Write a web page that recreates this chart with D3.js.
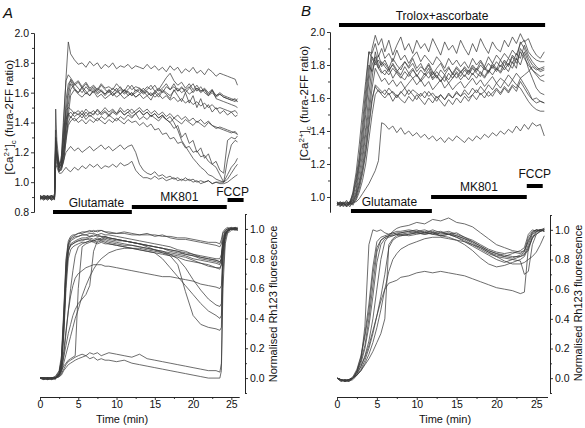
<!DOCTYPE html>
<html><head><meta charset="utf-8">
<script src="https://cdn.jsdelivr.net/npm/d3@7"></script>
<style>
body{margin:0;background:#fff}
text{font-family:"Liberation Sans",Arial,sans-serif;fill:#111}
</style>
</head><body>
<svg id="c" width="585" height="428"></svg>
<script>
// ---------- DATA ----------
// Panel A, [Ca2+]c time points (min)
const tCaA = [0,0.5,1,1.5,1.9,2.05,2.2,2.5,2.8,3.1,3.4,3.7,
  4,4.5,5,5.5,6,6.5,7,7.5,8,8.5,
  9,9.5,10,10.5,11,11.5,12,12.5,13,13.5,
  14,14.5,15,15.5,16,16.5,17,17.5,18,18.5,
  19,19.5,20,20.5,21,21.5,22,22.5,23,23.5,
  24,24.5,25,25.5,25.8];
const caA1 = [0.90,0.89,0.91,0.88,0.90,1.30,1.20,1.12,1.15,1.40,1.70,1.94, 1.86,1.82,1.79,1.80,1.77,1.81,1.78,1.80,1.76,1.79, 1.77,1.80,1.76,1.78,1.77,1.79,1.76,1.78,1.77,1.76, 1.79,1.76,1.78,1.75,1.77,1.74,1.78,1.75,1.77,1.73, 1.76,1.74,1.77,1.73,1.75,1.72,1.76,1.74,1.71,1.73, 1.72,1.71,1.70,1.69,1.65];
const caA2 = [0.91,0.90,0.88,0.90,0.89,1.25,1.18,1.10,1.18,1.45,1.68,1.72, 1.70,1.66,1.68,1.64,1.67,1.63,1.65,1.62,1.66,1.63, 1.64,1.62,1.66,1.63,1.61,1.65,1.62,1.64,1.63,1.61, 1.64,1.62,1.65,1.61,1.63,1.66,1.62,1.64,1.61,1.63, 1.62,1.64,1.60,1.63,1.61,1.62,1.59,1.61,1.58,1.60, 1.58,1.57,1.56,1.55,1.54];
const caA3 = [0.89,0.91,0.90,0.89,0.91,1.35,1.22,1.12,1.14,1.30,1.55,1.66, 1.68,1.63,1.60,1.63,1.59,1.62,1.60,1.63,1.61,1.59, 1.62,1.60,1.63,1.59,1.62,1.60,1.58,1.62,1.60,1.63, 1.60,1.58,1.61,1.59,1.62,1.60,1.58,1.61,1.63,1.60, 1.62,1.59,1.61,1.63,1.60,1.62,1.58,1.60,1.57,1.59, 1.57,1.56,1.55,1.56,1.54];
const caA4 = [0.90,0.88,0.90,0.91,0.88,1.28,1.20,1.09,1.12,1.25,1.48,1.62, 1.69,1.65,1.67,1.63,1.66,1.62,1.64,1.61,1.65,1.62, 1.60,1.63,1.61,1.64,1.60,1.62,1.65,1.61,1.63,1.60, 1.62,1.65,1.61,1.63,1.60,1.64,1.62,1.66,1.61,1.64, 1.60,1.63,1.66,1.61,1.64,1.60,1.58,1.62,1.56,1.55, 1.54,1.53,1.52,1.51,1.50];
const caA5 = [0.91,0.89,0.89,0.90,0.90,1.22,1.16,1.10,1.10,1.20,1.40,1.58, 1.66,1.62,1.60,1.64,1.61,1.58,1.62,1.59,1.61,1.58, 1.61,1.58,1.60,1.62,1.59,1.61,1.58,1.60,1.62,1.59, 1.61,1.58,1.60,1.57,1.61,1.59,1.56,1.62,1.58,1.54, 1.60,1.53,1.58,1.50,1.56,1.49,1.52,1.47,1.50,1.46, 1.48,1.45,1.47,1.44,1.45];
const caA6 = [0.89,0.90,0.91,0.88,0.89,1.18,1.14,1.08,1.10,1.18,1.35,1.52, 1.62,1.66,1.63,1.60,1.64,1.61,1.63,1.60,1.62,1.59, 1.62,1.58,1.61,1.59,1.62,1.58,1.60,1.57,1.59,1.56, 1.58,1.55,1.60,1.62,1.66,1.70,1.73,1.68,1.65,1.67, 1.63,1.66,1.62,1.65,1.61,1.63,1.60,1.62,1.58,1.59, 1.57,1.56,1.55,1.54,1.56];
const caA7 = [0.90,0.91,0.89,0.90,0.92,1.20,1.15,1.07,1.09,1.14,1.28,1.45, 1.58,1.62,1.59,1.57,1.60,1.58,1.61,1.57,1.59,1.56, 1.58,1.60,1.57,1.59,1.56,1.58,1.60,1.57,1.59,1.61, 1.58,1.60,1.57,1.59,1.56,1.58,1.55,1.57,1.54,1.56, 1.53,1.55,1.52,1.54,1.51,1.53,1.50,1.52,1.49,1.50, 1.49,1.48,1.47,1.48,1.46];
const caA8 = [0.88,0.90,0.90,0.89,0.90,1.25,1.18,1.10,1.13,1.30,1.42,1.46, 1.43,1.47,1.45,1.48,1.44,1.47,1.45,1.49,1.46,1.48, 1.45,1.48,1.46,1.50,1.47,1.49,1.46,1.48,1.50,1.47, 1.49,1.46,1.48,1.45,1.47,1.44,1.46,1.43,1.45,1.42, 1.44,1.41,1.43,1.40,1.42,1.39,1.41,1.38,1.37,1.36, 1.35,1.34,1.33,1.34,1.32];
const caA9 = [0.91,0.89,0.90,0.91,0.89,1.49,1.28,1.12,1.11,1.22,1.38,1.45, 1.47,1.44,1.46,1.43,1.47,1.44,1.46,1.48,1.45,1.47, 1.44,1.47,1.45,1.48,1.45,1.47,1.44,1.46,1.48,1.45, 1.47,1.44,1.46,1.43,1.45,1.42,1.40,1.36,1.38,1.30, 1.33,1.26,1.28,1.20,1.23,1.16,1.19,1.12,1.14,1.08, 1.06,1.28,1.30,1.29,1.31];
const caA10 = [0.90,0.90,0.88,0.91,0.90,1.30,1.20,1.08,1.08,1.15,1.28,1.38, 1.41,1.43,1.40,1.42,1.39,1.42,1.40,1.43,1.41,1.39, 1.42,1.40,1.43,1.41,1.39,1.42,1.40,1.41,1.38,1.40, 1.37,1.39,1.35,1.36,1.32,1.33,1.29,1.30,1.26,1.27, 1.23,1.24,1.20,1.21,1.17,1.18,1.14,1.12,1.10,1.05, 1.00,1.05,1.10,1.13,1.16];
const caA11 = [0.89,0.91,0.90,0.88,0.90,1.22,1.17,1.10,1.12,1.20,1.32,1.40, 1.44,1.41,1.43,1.46,1.42,1.45,1.43,1.41,1.44,1.42, 1.45,1.43,1.41,1.44,1.42,1.45,1.43,1.46,1.42,1.44, 1.42,1.45,1.43,1.41,1.44,1.42,1.40,1.43,1.41,1.39, 1.42,1.40,1.38,1.41,1.39,1.37,1.40,1.38,1.36,1.37, 1.36,1.35,1.34,1.33,1.32];
const caA12 = [0.90,0.89,0.91,0.90,0.91,1.27,1.19,1.11,1.14,1.35,1.48,1.50, 1.49,1.46,1.48,1.45,1.49,1.46,1.48,1.45,1.47,1.50, 1.47,1.49,1.46,1.48,1.45,1.47,1.49,1.46,1.48,1.45, 1.47,1.44,1.46,1.43,1.45,1.42,1.44,1.40,1.35,1.28, 1.24,1.20,1.16,1.13,1.10,1.08,1.05,1.04,1.02,1.01, 1.00,1.15,1.25,1.28,1.27];
const caA13 = [0.89,0.90,0.89,0.91,0.90,1.15,1.12,1.07,1.10,1.15,1.20,1.22, 1.24,1.21,1.23,1.20,1.22,1.24,1.21,1.23,1.25,1.22, 1.24,1.21,1.23,1.25,1.22,1.24,1.25,1.20,1.12,1.08, 1.06,1.05,1.07,1.04,1.05,1.03,1.04,1.02,1.03,1.01, 1.03,1.01,1.02,1.00,1.01,1.00,1.01,0.99,1.00,1.00, 1.00,1.02,1.06,1.10,1.12];
const caA14 = [0.90,0.88,0.90,0.89,0.91,1.12,1.10,1.06,1.06,1.08,1.10,1.08, 1.07,1.10,1.08,1.11,1.09,1.12,1.10,1.12,1.09,1.11, 1.10,1.12,1.10,1.13,1.11,1.12,1.14,1.08,1.05,1.03, 1.03,1.02,1.04,1.02,1.03,1.01,1.02,1.03,1.01,1.02, 1.01,1.02,1.00,1.01,0.99,1.00,1.01,0.99,1.00,0.99, 0.99,1.00,1.02,1.04,1.05];

// Panel A, Rh123 time points (min)
const tRhA = [0,0.5,1,1.5,2,2.5, 2.8,3.1,3.4,3.7,4,4.3,4.6, 5,5.5,6,6.5,7,7.5,8,8.5,9,
  10,11,12,13,14,15,16,17,18,19,20,21,22,23, 23.5,23.7,23.9,24.2,24.5,25,25.5,25.8];
const rhA1 = [0.00,-0.01,0.00,0.00,0.01,0.05, 0.15,0.45,0.80,0.92,0.95,0.96,0.96, 0.97,0.97,0.98,0.98,0.99,0.98,0.99,0.98,0.98, 0.97,0.97,0.96,0.96,0.97,0.95,0.96,0.94,0.93,0.93,0.92,0.91,0.90,0.89, 0.88,0.90,0.97,0.99,1.00,1.01,1.00,1.00];
const rhA2 = [0.00,0.00,-0.01,0.00,0.00,0.04, 0.12,0.40,0.75,0.90,0.94,0.95,0.96, 0.97,0.98,0.98,0.99,0.98,0.99,0.99,0.98,0.97, 0.97,0.98,0.97,0.96,0.96,0.96,0.95,0.95,0.94,0.94,0.93,0.92,0.91,0.91, 0.90,0.93,0.98,1.00,1.01,1.00,1.01,1.00];
const rhA3 = [0.00,0.00,0.00,-0.01,0.00,0.03, 0.10,0.35,0.70,0.88,0.92,0.93,0.94, 0.95,0.96,0.96,0.97,0.97,0.96,0.97,0.96,0.96, 0.95,0.94,0.93,0.92,0.91,0.90,0.89,0.88,0.86,0.85,0.83,0.81,0.80,0.79, 0.78,0.80,0.92,0.98,1.00,1.01,1.00,0.99];
const rhA4 = [0.00,-0.01,0.00,0.00,0.00,0.02, 0.08,0.30,0.65,0.85,0.90,0.91,0.92, 0.93,0.94,0.94,0.95,0.95,0.96,0.95,0.95,0.94, 0.93,0.92,0.91,0.90,0.89,0.88,0.87,0.86,0.85,0.84,0.83,0.82,0.81,0.80, 0.80,0.83,0.94,0.99,1.00,1.00,1.01,1.00];
const rhA5 = [0.00,0.00,0.00,0.00,-0.01,0.03, 0.10,0.38,0.72,0.86,0.89,0.90,0.91, 0.92,0.92,0.93,0.93,0.92,0.93,0.92,0.92,0.91, 0.90,0.89,0.89,0.88,0.87,0.86,0.85,0.84,0.83,0.82,0.80,0.79,0.78,0.77, 0.76,0.79,0.90,0.97,0.99,1.00,1.00,1.01];
const rhA6 = [0.00,0.00,-0.01,0.00,0.00,0.02, 0.07,0.28,0.60,0.80,0.86,0.88,0.89, 0.90,0.91,0.91,0.92,0.91,0.90,0.91,0.90,0.90, 0.89,0.88,0.87,0.86,0.85,0.84,0.83,0.82,0.81,0.79,0.78,0.77,0.75,0.74, 0.73,0.76,0.88,0.96,0.99,1.00,0.99,1.00];
const rhA7 = [0.00,0.00,0.00,0.00,0.01,0.04, 0.12,0.42,0.78,0.90,0.93,0.94,0.95, 0.95,0.96,0.96,0.95,0.96,0.95,0.95,0.94,0.94, 0.93,0.92,0.91,0.90,0.88,0.86,0.84,0.82,0.76,0.58,0.42,0.36,0.34,0.33, 0.32,0.34,0.85,0.97,0.99,1.00,1.00,1.00];
const rhA8 = [0.00,0.00,0.00,-0.01,0.00,0.02, 0.05,0.15,0.30,0.45,0.60,0.72,0.82, 0.88,0.90,0.91,0.92,0.92,0.91,0.92,0.91,0.90, 0.89,0.88,0.87,0.86,0.85,0.84,0.80,0.74,0.68,0.62,0.56,0.50,0.45,0.42, 0.40,0.42,0.80,0.96,0.99,1.00,1.00,1.01];
const rhA9 = [0.00,-0.01,0.00,0.00,0.00,0.03, 0.09,0.33,0.68,0.85,0.89,0.90,0.91, 0.92,0.93,0.93,0.94,0.93,0.94,0.93,0.93,0.92, 0.91,0.90,0.89,0.88,0.87,0.86,0.85,0.83,0.80,0.74,0.66,0.59,0.53,0.49, 0.48,0.50,0.82,0.96,0.99,1.00,1.00,1.00];
const rhA10 = [0.00,0.00,0.00,0.00,0.00,0.02, 0.05,0.08,0.10,0.12,0.13,0.14,0.15, 0.60,0.88,0.90,0.91,0.92,0.93,0.93,0.94,0.93, 0.92,0.92,0.91,0.90,0.89,0.88,0.87,0.86,0.85,0.83,0.82,0.81,0.80,0.79, 0.78,0.80,0.90,0.97,0.99,1.00,1.00,1.00];
const rhA11 = [0.00,0.00,-0.01,0.00,0.00,0.02, 0.06,0.14,0.22,0.30,0.36,0.42,0.46, 0.50,0.53,0.56,0.62,0.85,0.92,0.94,0.95,0.94, 0.93,0.92,0.91,0.90,0.89,0.88,0.87,0.85,0.84,0.83,0.82,0.80,0.79,0.78, 0.77,0.79,0.91,0.97,0.99,1.00,1.00,0.99];
const rhA12 = [0.00,0.00,0.00,0.00,0.00,0.01, 0.04,0.10,0.16,0.22,0.28,0.34,0.40, 0.46,0.55,0.62,0.68,0.73,0.77,0.80,0.82,0.84, 0.86,0.87,0.87,0.87,0.86,0.85,0.84,0.83,0.82,0.81,0.79,0.77,0.76,0.74, 0.74,0.76,0.89,0.96,0.99,1.00,1.01,1.00];
const rhA13 = [0.00,0.00,0.00,-0.01,0.00,0.02, 0.06,0.18,0.32,0.45,0.55,0.62,0.67, 0.70,0.72,0.74,0.75,0.76,0.76,0.76,0.75,0.75, 0.74,0.73,0.72,0.71,0.70,0.69,0.68,0.68,0.67,0.66,0.65,0.63,0.62,0.61, 0.60,0.62,0.85,0.95,0.98,1.00,1.00,1.00];
const rhA14 = [0.00,0.00,0.00,0.00,0.00,0.01, 0.03,0.06,0.09,0.11,0.12,0.13,0.14, 0.15,0.16,0.15,0.17,0.16,0.17,0.15,0.16,0.17, 0.16,0.15,0.14,0.16,0.13,0.12,0.11,0.10,0.09,0.08,0.07,0.06,0.05,0.05, 0.04,0.10,0.70,0.93,0.98,1.00,1.00,0.99];
const rhA15 = [0.00,0.00,-0.01,0.00,0.00,0.01, 0.02,0.05,0.07,0.09,0.10,0.11,0.12, 0.13,0.14,0.15,0.13,0.14,0.12,0.13,0.12,0.12, 0.11,0.12,0.10,0.09,0.08,0.07,0.06,0.05,0.04,0.03,0.02,0.01,0.00,0.00, 0.00,0.05,0.60,0.90,0.97,0.99,1.00,1.00];

// Panel B, [Ca2+]c time points (min)
const tCaB = [0,0.4,0.8,1.2,1.6,2.0,2.4,2.8,3.2,3.6,4.0,4.4,4.8,5.2,5.6,
  6,6.5,7,7.5,8,8.5,9,9.5,10,10.5,
  11,11.5,12,12.5,13,13.5,14,14.5,15,15.5,
  16,16.5,17,17.5,18,18.5,19,19.5,20,20.5,
  21,21.5,22,22.5,23,23.5,24,24.5,25,25.5, 26];
const caB1 = [0.96,0.95,0.97,0.94,0.96,1.00,1.08,1.20,1.35,1.55,1.75,1.90,1.98,1.92,1.96, 1.88,1.95,1.86,1.92,1.97,1.89,1.93,1.87,1.95,1.90, 1.93,1.88,1.96,1.91,1.86,1.94,1.89,1.92,1.87,1.95, 1.90,1.86,1.93,1.88,1.96,1.91,1.87,1.94,1.90,1.88, 1.95,1.91,1.97,1.93,1.99,1.94,1.96,1.90,1.86,1.84, 1.88];
const caB2 = [0.95,0.97,0.96,0.95,0.97,1.02,1.12,1.25,1.45,1.65,1.88,1.87,1.93,1.85,1.90, 1.84,1.87,1.82,1.89,1.83,1.86,1.81,1.85,1.88,1.82, 1.86,1.83,1.80,1.85,1.82,1.78,1.84,1.80,1.83,1.79, 1.82,1.78,1.84,1.80,1.83,1.79,1.85,1.81,1.86,1.83, 1.87,1.84,1.89,1.86,1.93,1.95,1.88,1.85,1.83,1.82, 1.82];
const caB3 = [0.97,0.95,0.96,0.98,0.95,0.99,1.05,1.18,1.30,1.50,1.70,1.85,1.82,1.86,1.80, 1.83,1.78,1.84,1.80,1.77,1.82,1.79,1.84,1.78,1.81, 1.76,1.80,1.74,1.78,1.81,1.76,1.79,1.74,1.78,1.75, 1.79,1.76,1.80,1.77,1.82,1.78,1.75,1.80,1.77,1.83, 1.79,1.84,1.81,1.87,1.84,1.92,1.86,1.82,1.79,1.77, 1.78];
const caB4 = [0.96,0.96,0.94,0.96,0.97,0.98,1.03,1.14,1.26,1.42,1.62,1.80,1.85,1.78,1.82, 1.79,1.76,1.81,1.77,1.74,1.79,1.75,1.78,1.73,1.77, 1.74,1.78,1.72,1.76,1.73,1.70,1.75,1.72,1.76,1.73, 1.77,1.74,1.78,1.75,1.73,1.79,1.76,1.81,1.78,1.76, 1.82,1.79,1.85,1.81,1.88,1.84,1.80,1.77,1.74,1.71, 1.70];
const caB5 = [0.95,0.97,0.95,0.96,0.94,0.97,1.02,1.10,1.22,1.38,1.55,1.72,1.88,1.80,1.76, 1.74,1.78,1.72,1.76,1.73,1.71,1.75,1.72,1.74,1.70, 1.73,1.76,1.71,1.74,1.70,1.73,1.69,1.72,1.75,1.71, 1.74,1.71,1.75,1.72,1.76,1.73,1.77,1.74,1.78,1.75, 1.79,1.76,1.82,1.78,1.90,1.86,1.78,1.72,1.66,1.63, 1.62];
const caB6 = [0.96,0.94,0.96,0.97,0.95,0.96,1.00,1.08,1.18,1.32,1.50,1.66,1.78,1.74,1.70, 1.72,1.68,1.71,1.67,1.70,1.66,1.69,1.72,1.68,1.71, 1.67,1.70,1.65,1.68,1.71,1.66,1.69,1.65,1.68,1.70, 1.66,1.69,1.72,1.68,1.71,1.67,1.70,1.73,1.69,1.72, 1.70,1.74,1.71,1.75,1.72,1.68,1.64,1.59,1.57,1.58, 1.57];
const caB7 = [0.97,0.95,0.95,0.96,0.97,0.95,0.99,1.05,1.14,1.26,1.42,1.58,1.68,1.66,1.64, 1.62,1.66,1.63,1.60,1.64,1.61,1.65,1.62,1.59,1.63, 1.60,1.64,1.61,1.58,1.62,1.59,1.63,1.60,1.64,1.61, 1.65,1.62,1.66,1.63,1.67,1.64,1.68,1.65,1.69,1.66, 1.70,1.67,1.71,1.68,1.66,1.62,1.58,1.55,1.53,1.52, 1.52];
const caB8 = [0.95,0.96,0.97,0.95,0.96,0.96,0.98,1.03,1.10,1.20,1.35,1.50,1.62,1.65,1.62, 1.60,1.63,1.58,1.62,1.59,1.57,1.61,1.58,1.62,1.59, 1.56,1.60,1.57,1.61,1.58,1.55,1.59,1.56,1.60,1.57, 1.61,1.58,1.62,1.59,1.63,1.60,1.64,1.61,1.65,1.62, 1.66,1.63,1.67,1.64,1.70,1.66,1.62,1.59,1.60,1.58, 1.57];
const caB9 = [0.96,0.95,0.96,0.94,0.96,0.97,0.97,0.99,1.02,1.05,1.08,1.12,1.16,1.22,1.45, 1.44,1.41,1.43,1.39,1.42,1.38,1.40,1.37,1.39,1.36, 1.38,1.35,1.37,1.34,1.36,1.33,1.36,1.34,1.37,1.35, 1.33,1.36,1.34,1.37,1.35,1.38,1.36,1.39,1.37,1.40, 1.38,1.41,1.39,1.43,1.40,1.44,1.41,1.45,1.43,1.44, 1.37];
const caB10 = [0.97,0.96,0.95,0.97,0.96,1.03,1.15,1.32,1.52,1.70,1.88,1.84,1.80,1.83,1.79, 1.81,1.77,1.80,1.76,1.79,1.82,1.78,1.81,1.76,1.79, 1.77,1.81,1.76,1.72,1.77,1.74,1.78,1.75,1.79,1.76, 1.78,1.75,1.79,1.76,1.80,1.77,1.81,1.78,1.82,1.79, 1.83,1.80,1.86,1.83,1.94,1.90,1.84,1.80,1.78,1.76, 1.77];
const caB11 = [0.95,0.96,0.96,0.95,0.97,0.97,1.01,1.07,1.16,1.28,1.45,1.60,1.67,1.64,1.63, 1.65,1.62,1.64,1.61,1.63,1.66,1.62,1.65,1.63,1.61, 1.64,1.61,1.63,1.60,1.62,1.59,1.62,1.60,1.63,1.61, 1.63,1.60,1.62,1.65,1.62,1.64,1.61,1.63,1.66,1.63, 1.67,1.64,1.68,1.66,1.72,1.74,1.76,1.79,1.77,1.78, 1.79];
const caB12 = [0.96,0.97,0.96,0.95,0.96,1.01,1.10,1.22,1.40,1.60,1.80,1.76,1.82,1.78,1.75, 1.77,1.74,1.78,1.75,1.72,1.76,1.73,1.77,1.74,1.71, 1.75,1.72,1.76,1.73,1.70,1.74,1.71,1.75,1.72,1.76, 1.73,1.77,1.74,1.78,1.75,1.72,1.76,1.79,1.76,1.80, 1.77,1.81,1.78,1.84,1.80,1.88,1.82,1.77,1.75,1.73, 1.74];

// Panel B, Rh123 time points (min)
const tRhB = [0,0.5,1,1.5,2,2.5,3,3.5,4,4.5,5,5.5,6,6.5,7,7.5,8,
  9,10,11,12,13,14,15,16,17,18,19,20,21,22,23,
  23.5,24,24.5,25,25.5,26];
const rhB1 = [0.00,-0.01,-0.02,-0.01,0.00,0.03,0.08,0.15,0.25,0.40,0.60,0.80,0.92,0.96,0.99,1.01,1.02, 1.03,1.05,1.04,1.07,1.06,1.08,1.05,1.04,1.02,0.98,0.94,0.90,0.88,0.86,0.85, 0.86,0.92,0.98,1.00,0.99,1.00];
const rhB2 = [0.00,-0.02,-0.01,-0.02,0.00,0.05,0.12,0.35,0.90,1.00,0.99,1.00,0.98,0.97,0.98,0.97,0.98, 0.99,0.98,0.99,0.97,0.98,0.97,0.96,0.94,0.92,0.89,0.86,0.84,0.83,0.82,0.82, 0.83,0.90,0.97,0.99,1.00,0.99];
const rhB3 = [0.00,-0.01,-0.02,-0.01,0.01,0.06,0.15,0.30,0.50,0.75,0.92,0.95,0.96,0.97,0.98,0.99,0.99, 1.00,0.99,1.00,0.98,0.99,0.97,0.98,0.95,0.93,0.90,0.87,0.85,0.84,0.85,0.84, 0.86,0.95,0.99,1.00,1.00,1.01];
const rhB4 = [0.00,-0.01,-0.02,-0.02,0.00,0.04,0.12,0.22,0.40,0.62,0.85,0.93,0.95,0.96,0.97,0.98,0.98, 0.99,1.00,0.98,0.99,0.97,0.98,0.96,0.94,0.91,0.88,0.85,0.83,0.82,0.84,0.86, 0.88,0.97,1.00,0.99,1.00,1.00];
const rhB5 = [0.00,-0.02,-0.02,-0.01,0.00,0.05,0.14,0.28,0.45,0.70,0.88,0.93,0.95,0.96,0.96,0.97,0.96, 0.97,0.98,0.97,0.98,0.96,0.95,0.93,0.90,0.86,0.81,0.77,0.75,0.76,0.78,0.80, 0.82,0.88,0.94,0.98,1.00,0.99];
const rhB6 = [0.00,-0.01,-0.02,-0.01,0.00,0.02,0.06,0.12,0.20,0.30,0.42,0.55,0.70,0.88,0.93,0.95,0.96, 0.97,0.98,0.97,0.98,0.96,0.97,0.95,0.93,0.90,0.87,0.84,0.82,0.81,0.80,0.79, 0.70,0.72,0.90,0.97,0.99,1.00];
const rhB7 = [0.00,-0.01,-0.01,-0.02,-0.01,0.02,0.05,0.10,0.16,0.24,0.34,0.46,0.60,0.72,0.80,0.84,0.87, 0.90,0.92,0.94,0.95,0.95,0.94,0.93,0.92,0.90,0.88,0.85,0.82,0.79,0.77,0.77, 0.78,0.80,0.82,0.85,0.90,0.96];
const rhB8 = [0.00,-0.01,-0.02,-0.02,0.00,0.03,0.08,0.14,0.22,0.32,0.42,0.52,0.60,0.64,0.65,0.66,0.68, 0.69,0.71,0.72,0.71,0.72,0.71,0.70,0.69,0.67,0.65,0.63,0.61,0.60,0.59,0.57, 0.58,0.88,0.95,0.97,0.99,1.00];
const rhB9 = [0.00,-0.02,-0.01,-0.01,0.00,0.04,0.10,0.20,0.35,0.55,0.78,0.90,0.94,0.95,0.96,0.97,0.97, 0.98,0.99,0.98,1.00,0.98,0.99,0.97,0.95,0.92,0.89,0.86,0.84,0.82,0.81,0.83, 0.85,0.93,0.98,1.00,0.99,1.01];
const rhB10 = [0.00,-0.01,-0.02,-0.01,0.00,0.02,0.05,0.09,0.13,0.18,0.24,0.30,0.40,0.90,0.94,0.96,0.97, 0.96,0.97,0.98,0.97,0.96,0.97,0.95,0.92,0.89,0.86,0.83,0.80,0.78,0.80,0.82, 0.84,0.86,0.95,0.99,1.00,0.99];

// Treatment bars (min)
const drugNamesA = ["Glutamate","MK801","FCCP"];
const drugStartA = [1.7,12.0,24.5];
const drugEndA   = [12.0,24.4,26.6];
const drugNamesB = ["Trolox+ascorbate","Glutamate","MK801","FCCP"];
const drugStartB = [0.25,1.75,11.8,23.8];
const drugEndB   = [26.1,11.9,23.8,25.8];

// Tick labels
const caTicksA = [0.8,1.0,1.2,1.4,1.6,1.8,2.0];
const caTicksB = [1.0,1.2,1.4,1.6,1.8,2.0];
const rhTicks = [0.0,0.2,0.4,0.6,0.8,1.0];
const timeTicks = [0,5,10,15,20,25];

// ---------- DRAW ----------
const svg = d3.select("#c");
const xA = d3.scaleLinear().domain([0,26]).range([40,239]);
const yCaA = d3.scaleLinear().domain([0.8,2.0]).range([212,33]);
const yRhA = d3.scaleLinear().domain([-0.1,1.1]).range([393,214]);
const xB = d3.scaleLinear().domain([0,26.4]).range([337,547.5]);
const yCaB = d3.scaleLinear().domain([0.909,2.0]).range([212,32]);
const yRhB = d3.scaleLinear().domain([-0.1,1.1]).range([393,215]);

function drawTraces(times, series, x, y){
  const line = d3.line().x((d,i)=>x(times[i])).y(d=>y(d));
  svg.append("g").selectAll("path").data(series).join("path")
    .attr("d", s=>line(s.slice(0,times.length)))
    .attr("fill","none").attr("stroke","#3c3c3c").attr("stroke-width",0.75)
    .attr("stroke-linejoin","round");
}
drawTraces(tCaA,[caA1,caA2,caA3,caA4,caA5,caA6,caA7,caA8,caA9,caA10,caA11,caA12,caA13,caA14],xA,yCaA);
drawTraces(tRhA,[rhA1,rhA2,rhA3,rhA4,rhA5,rhA6,rhA7,rhA8,rhA9,rhA10,rhA11,rhA12,rhA13,rhA14,rhA15],xA,yRhA);
drawTraces(tCaB,[caB1,caB2,caB3,caB4,caB5,caB6,caB7,caB8,caB9,caB10,caB11,caB12],xB,yCaB);
drawTraces(tRhB,[rhB1,rhB2,rhB3,rhB4,rhB5,rhB6,rhB7,rhB8,rhB9,rhB10],xB,yRhB);

function styleAxis(g){
  g.attr("font-family",'"Liberation Sans",Arial,sans-serif').attr("font-size",10.5);
  g.selectAll("path,line").attr("stroke","#222").attr("stroke-width",0.9);
  g.selectAll("text").attr("fill","#111");
}
// Left Ca axes
function caAxis(x0, y, ticks, minorTicks){
  svg.append("g").attr("transform",`translate(${x0},0)`)
    .call(d3.axisLeft(y).tickValues(ticks).tickFormat(d3.format(".1f")).tickSize(3).tickPadding(2).tickSizeOuter(0)).call(styleAxis);
  svg.append("g").attr("transform",`translate(${x0},0)`)
    .call(d3.axisLeft(y).tickValues(minorTicks).tickFormat("").tickSize(2).tickSizeOuter(0)).call(styleAxis);
}
caAxis(34, yCaA, caTicksA, [0.9,1.1,1.3,1.5,1.7,1.9]);
caAxis(330, yCaB, caTicksB, [1.1,1.3,1.5,1.7,1.9]);

function timeAxis(x, yPos){
  svg.append("g").attr("transform",`translate(0,${yPos})`)
    .call(d3.axisBottom(x).tickValues(timeTicks).tickSize(3).tickPadding(1).tickSizeOuter(0)).call(styleAxis);
  svg.append("g").attr("transform",`translate(0,${yPos})`)
    .call(d3.axisBottom(x).tickValues([2.5,7.5,12.5,17.5,22.5]).tickFormat("").tickSize(2).tickSizeOuter(0)).call(styleAxis);
}
timeAxis(xA, 397);
timeAxis(xB, 397);

function rhAxis(x0, y){
  svg.append("g").attr("transform",`translate(${x0},0)`)
    .call(d3.axisRight(y).tickValues(rhTicks).tickFormat(d3.format(".1f")).tickSize(3).tickPadding(2).tickSizeOuter(0)).call(styleAxis);
  svg.append("g").attr("transform",`translate(${x0},0)`)
    .call(d3.axisRight(y).tickValues([-0.1,0.1,0.3,0.5,0.7,0.9,1.1]).tickFormat("").tickSize(2).tickSizeOuter(0)).call(styleAxis);
}
rhAxis(245, yRhA);
rhAxis(550, yRhB);

// Bars
function bars(names, starts, ends, x, yBars, yLabels, xLabelShift){
  names.forEach((n,i)=>{
    svg.append("rect").attr("x",x(starts[i])).attr("y",yBars[i]-2)
      .attr("width",x(ends[i])-x(starts[i])).attr("height",4).attr("fill","#000");
    svg.append("text").attr("x",(x(starts[i])+x(ends[i]))/2 + xLabelShift[i]).attr("y",yLabels[i])
      .attr("text-anchor","middle").attr("font-size",12).text(n);
  });
}
bars(drugNamesA, drugStartA, drugEndA, xA, [212,207,200], [207,201,196], [4,0,-3]);
bars(drugNamesB, drugStartB, drugEndB, xB, [25,211,197,186], [20,206,191,178], [0,-2,0,0]);

// Axis titles
function caTitle(x0,y0){
  const t = svg.append("text").attr("transform",`translate(${x0},${y0}) rotate(-90)`)
    .attr("text-anchor","middle").attr("font-size",11.5);
  t.append("tspan").text("[Ca");
  t.append("tspan").attr("font-size",8).attr("dy",-4).text("2+");
  t.append("tspan").attr("dy",4).text("]");
  t.append("tspan").attr("font-size",8).attr("dy",3).text("c");
  t.append("tspan").attr("dy",-3).text(" (fura-2FF ratio)");
}
caTitle(13,117);
caTitle(308,103);
function rhTitle(x0,y0){
  svg.append("text").attr("transform",`translate(${x0},${y0}) rotate(-90)`)
    .attr("text-anchor","middle").attr("font-size",11).text("Normalised Rh123 fluorescence");
}
rhTitle(277,304);
rhTitle(582,303);
svg.append("text").attr("x",122).attr("y",423).attr("text-anchor","middle").attr("font-size",11).text("Time (min)");
svg.append("text").attr("x",445).attr("y",423).attr("text-anchor","middle").attr("font-size",11).text("Time (min)");

svg.append("text").attr("x",3).attr("y",18).attr("font-size",15).attr("font-style","italic").text("A");
svg.append("text").attr("x",301).attr("y",16).attr("font-size",15).attr("font-style","italic").text("B");
</script>
</body></html>
